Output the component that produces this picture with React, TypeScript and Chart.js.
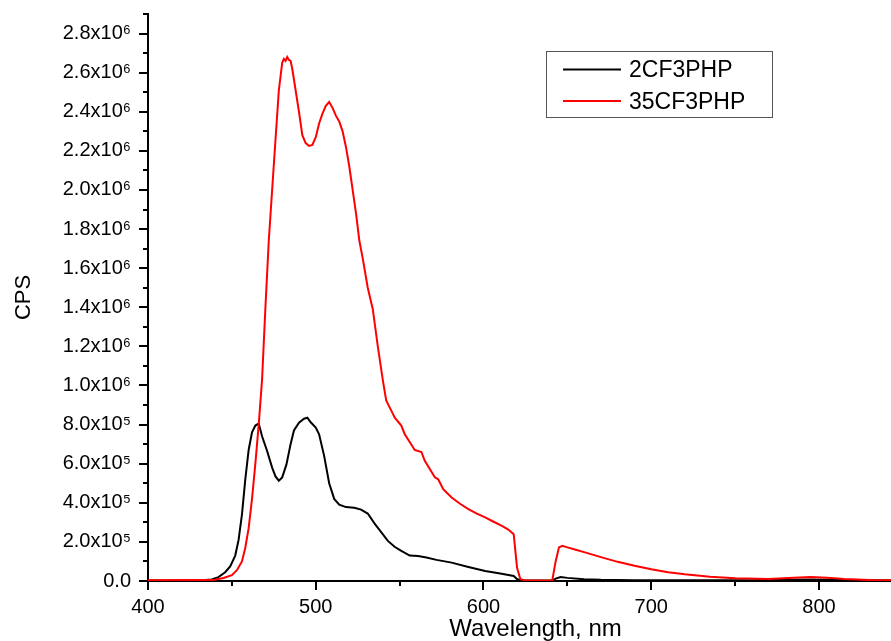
import React, { useEffect, useRef } from "react";
import { Chart, registerables } from "chart.js";

Chart.register(...registerables);

// ---- Data ----
const seriesLabels = ["2CF3PHP", "35CF3PHP"];

// 2CF3PHP (black)
const blackX = [
  400, 430, 438, 442, 446, 449, 452, 454, 456, 458, 460, 462, 464, 466, 468, 471, 474, 476, 478, 480,
  482.5, 485, 487, 490, 493, 495, 497, 500, 502, 505, 508, 511, 514, 518, 523, 527, 531, 535, 539, 543,
  547, 551, 556, 561, 566, 572, 581, 591, 601, 610, 618, 620, 622, 630, 641, 643, 646, 650, 660, 670,
  690, 720, 760, 795, 830, 862,
];
const blackY = [
  2e3, 3e3, 8e3, 20e3, 45e3, 75e3, 130e3, 210e3, 340e3, 520e3, 670e3, 760e3, 795e3, 805e3, 740e3, 665e3, 580e3, 535e3, 513e3, 530e3,
  595e3, 700e3, 770e3, 810e3, 830e3, 835e3, 812e3, 785e3, 750e3, 640e3, 500e3, 420e3, 390e3, 378e3, 375e3, 365e3, 345e3, 295e3, 250e3, 205e3,
  175e3, 154e3, 130e3, 128e3, 120e3, 108e3, 94e3, 72e3, 51e3, 38e3, 26e3, 10e3, 3e3, 2e3, 2e3, 12e3, 20e3, 16e3, 9e3, 6e3,
  4e3, 4e3, 4e3, 8e3, 4e3, 2e3,
];

// 35CF3PHP (red)
const redX = [
  400, 430, 440, 445, 450, 453, 456, 458, 460, 462, 464, 466, 468, 470, 472, 474, 476, 478, 480, 481,
  482, 483, 484, 485, 486, 488, 490, 492, 494, 496, 498, 500, 502, 504, 506, 508, 510, 512, 514, 516,
  518, 520, 522, 524, 526, 528, 531, 534, 537, 540, 542, 543, 546, 547, 551, 553, 559, 563, 565, 571,
  573, 576, 581, 586, 591, 596, 601, 606, 611, 615, 618, 620, 622, 625, 641, 643, 645, 647, 650, 655,
  661, 670, 680, 690, 700, 710, 720, 735, 750, 770, 785, 795, 805, 815, 830, 862,
];
const redY = [
  4e3, 5e3, 6e3, 15e3, 30e3, 55e3, 100e3, 170e3, 270e3, 420e3, 600e3, 800e3, 1030e3, 1400e3, 1740e3, 2000e3, 2256e3, 2510e3, 2650e3, 2670e3,
  2660e3, 2680e3, 2665e3, 2660e3, 2620e3, 2510e3, 2400e3, 2280e3, 2240e3, 2225e3, 2230e3, 2270e3, 2340e3, 2390e3, 2430e3, 2450e3, 2420e3, 2380e3, 2350e3, 2300e3,
  2220e3, 2120e3, 2000e3, 1880e3, 1740e3, 1650e3, 1500e3, 1390e3, 1200e3, 1026e3, 923e3, 906e3, 855e3, 837e3, 795e3, 752e3, 670e3, 660e3, 615e3, 530e3,
  520e3, 470e3, 427e3, 395e3, 368e3, 345e3, 325e3, 303e3, 282e3, 262e3, 239e3, 68e3, 9e3, 3e3, 3e3, 100e3, 172e3, 180e3, 172e3, 160e3,
  145e3, 122e3, 98e3, 78e3, 60e3, 45e3, 34e3, 22e3, 14e3, 10e3, 16e3, 20e3, 16e3, 10e3, 5e3, 2e3,
];

const seriesColors = ["#000000", "#ff0000"];

const xMin = 400;
const xMax = 862;
const yMin = 0;
const yMax = 2.9e6;
const xMajorStep = 100;
const xMinorStep = 50;
const yMajorStep = 2e5;
const yMinorStep = 1e5;

const SUP: Record<string, string> = {
  "0": "⁰", "1": "¹", "2": "²", "3": "³", "4": "⁴", "5": "⁵", "6": "⁶", "7": "⁷", "8": "⁸", "9": "⁹",
};

function fmtY(v: number): string {
  if (v === 0) return "0.0";
  const e = Math.floor(Math.log10(v) + 1e-9);
  const m = v / Math.pow(10, e);
  return m.toFixed(1) + "x10" + String(e).split("").map((c) => SUP[c] || c).join("");
}

const TOP = 14;

const tickPlugin = {
  id: "minorMajorTicks",
  afterDraw(chart: any) {
    const { ctx, chartArea } = chart;
    const xs = chart.scales.x;
    const ys = chart.scales.y;
    ctx.save();
    ctx.strokeStyle = "#000";
    ctx.lineWidth = 2;
    ys.ticks.forEach((t: any) => {
      const p = Math.round(ys.getPixelForValue(t.value));
      const major = Math.round(t.value / yMinorStep) % Math.round(yMajorStep / yMinorStep) === 0;
      ctx.beginPath();
      ctx.moveTo(chartArea.left - (major ? 9 : 5), p);
      ctx.lineTo(chartArea.left, p);
      ctx.stroke();
    });
    xs.ticks.forEach((t: any) => {
      const p = Math.round(xs.getPixelForValue(t.value));
      const major = Math.round((t.value - xMin) / xMinorStep) % Math.round(xMajorStep / xMinorStep) === 0;
      ctx.beginPath();
      ctx.moveTo(p, chartArea.bottom);
      ctx.lineTo(p, chartArea.bottom + (major ? 9 : 5));
      ctx.stroke();
    });
    ctx.restore();
  },
};

const legendPlugin = {
  id: "boxLegend",
  afterDraw(chart: any) {
    const { ctx } = chart;
    const ds = chart.data.datasets;
    const box = { x: 546.5, y: 51.5, w: 226, h: 66 };
    ctx.save();
    ctx.fillStyle = "#fff";
    ctx.fillRect(box.x, box.y, box.w, box.h);
    ctx.strokeStyle = "#555";
    ctx.lineWidth = 1;
    ctx.strokeRect(box.x, box.y, box.w, box.h);
    ctx.font = "23px 'Liberation Sans', Arial, sans-serif";
    ctx.textBaseline = "alphabetic";
    ctx.textAlign = "left";
    const rows = [69.5, 101];
    ds.forEach((d: any, i: number) => {
      const y = rows[i];
      ctx.strokeStyle = d.borderColor;
      ctx.lineWidth = 2;
      ctx.beginPath();
      ctx.moveTo(563, y);
      ctx.lineTo(621, y);
      ctx.stroke();
      ctx.fillStyle = "#000";
      ctx.fillText(d.label, 629, y + 7.5);
    });
    ctx.restore();
  },
};

export default function App() {
  const ref = useRef<HTMLCanvasElement | null>(null);

  useEffect(() => {
    if (!ref.current) return;
    Chart.defaults.font.family = "'Liberation Sans', Arial, sans-serif";
    Chart.defaults.color = "#000";
    const chart = new Chart(ref.current, {
      type: "line",
      data: {
        datasets: [
          {
            label: seriesLabels[0],
            data: blackX.map((x, i) => ({ x, y: blackY[i] })),
            borderColor: seriesColors[0],
            backgroundColor: seriesColors[0],
            borderWidth: 2,
            pointRadius: 0,
            tension: 0,
            order: 2,
          },
          {
            label: seriesLabels[1],
            data: redX.map((x, i) => ({ x, y: redY[i] })),
            borderColor: seriesColors[1],
            backgroundColor: seriesColors[1],
            borderWidth: 2,
            pointRadius: 0,
            tension: 0,
            order: 1,
          },
        ],
      },
      options: {
        animation: false,
        responsive: true,
        maintainAspectRatio: false,
        layout: { padding: 0 },
        plugins: { legend: { display: false }, tooltip: { enabled: false } },
        scales: {
          x: {
            type: "linear",
            min: xMin,
            max: xMax,
            afterFit: (s: any) => {
              s.height = 60;
            },
            grid: { display: false, drawTicks: false },
            border: { display: true, color: "#000", width: 2 },
            ticks: {
              stepSize: xMinorStep,
              autoSkip: false,
              includeBounds: false,
              maxRotation: 0,
              padding: 14,
              color: "#000",
              font: { size: 20 },
              callback: (v: any) => (Math.round(v - xMin) % xMajorStep === 0 ? String(v) : ""),
            },
            title: {
              display: true,
              text: "Wavelength, nm",
              color: "#000",
              font: { size: 24, lineHeight: 1 },
              padding: { top: 0, bottom: 0 },
            },
          },
          y: {
            type: "linear",
            min: yMin,
            max: yMax,
            afterFit: (s: any) => {
              s.width = 148;
              s.paddingTop = TOP;
            },
            grid: { display: false, drawTicks: false },
            border: { display: true, color: "#000", width: 2 },
            ticks: {
              stepSize: yMinorStep,
              autoSkip: false,
              includeBounds: false,
              padding: 17,
              color: "#000",
              font: { size: 20 },
              callback: (v: any) =>
                Math.round(v / yMinorStep) % Math.round(yMajorStep / yMinorStep) === 0 ? fmtY(v) : "",
            },
            title: {
              display: true,
              text: "CPS",
              color: "#000",
              font: { size: 22 },
              padding: { top: 11, bottom: 0 },
            },
          },
        },
      },
      plugins: [tickPlugin, legendPlugin],
    });
    return () => chart.destroy();
  }, []);

  return (
    <div style={{ position: "fixed", left: 0, top: 0, width: 891, height: 641, overflow: "hidden", background: "#fff" }}>
      <div style={{ position: "relative", width: 923, height: 641 }}>
        <canvas ref={ref} />
      </div>
    </div>
  );
}
